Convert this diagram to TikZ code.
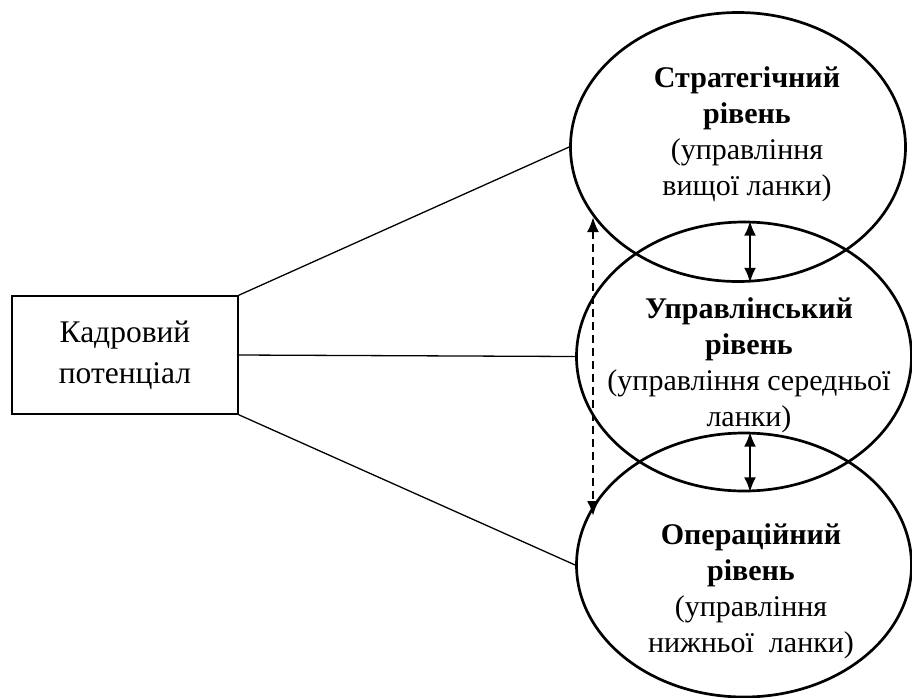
\documentclass[tikz,border=0pt]{standalone}
\usepackage{fontspec}
\setmainfont{Liberation Serif}
\usetikzlibrary{positioning, calc, shapes.geometric, arrows.meta}

\begin{document}
\begin{tikzpicture}[
  x=1pt, y=-1pt,
  >={Latex[length=15pt,width=12pt]},
  box/.style   = {draw, line width=1.5pt, rectangle, minimum width=226pt, minimum height=118pt,
                  align=center, font=\fontsize{31.5}{41}\selectfont},
  level/.style = {draw, line width=2.7pt, ellipse, inner sep=0pt, minimum width=335pt, minimum height=269pt},
  ltext/.style = {align=center, inner sep=0pt, font=\fontsize{30}{36}\selectfont},
  link/.style  = {line width=1.3pt},
  dbl/.style   = {<->, line width=2.7pt},
]
  \useasboundingbox (0,0) rectangle (912,697);
  \clip (0,0) rectangle (912,697);

  \node[box]                  (kadr) at (125,355) {Кадровий\\потенціал};

  \node[level]                (strat) at (738,147)   {};
  \node[level]                (upr)   at (744,356.5) {};
  \node[level, minimum height=264pt] (oper) at (744,565) {};

  \node[ltext] (strattxt) at (747,134) {\textbf{Стратегічний}\\\textbf{рівень}\\(управління\\вищої ланки)};
  \node[ltext] (uprtxt)   at (749,365) {\textbf{Управлінський}\\\textbf{рівень}\\(управління середньої\\ланки)};
  \node[ltext] (opertxt)  at (751,591) {\textbf{Операційний}\\\textbf{рівень}\\(управління\\нижньої\ \ ланки)};

  % links from the box
  \draw[link] (kadr.north east) -- (strat.west);
  \draw[link] (kadr.east)       -- (upr.west);
  \draw[link] (kadr.south east) -- (oper.west);

  % two-way arrows between levels
  \coordinate (a1) at ($(strat.south)+(12,0)$);
  \coordinate (a2) at ($(upr.north)+(6,0)$);
  \coordinate (b1) at ($(upr.south)+(6,0)$);
  \coordinate (b2) at ($(oper.north)+(6,0)$);
  \draw[dbl] (a2) -- (a1);
  \draw[dbl] (b2) -- (b1);

  % dashed link top to bottom
  \coordinate (dtop) at (593,217);
  \coordinate (dbot) at (593,516);
  \draw[dbl, line width=2.4pt, dash pattern=on 8pt off 5pt] (dtop) -- (dbot);
\end{tikzpicture}
\end{document}
